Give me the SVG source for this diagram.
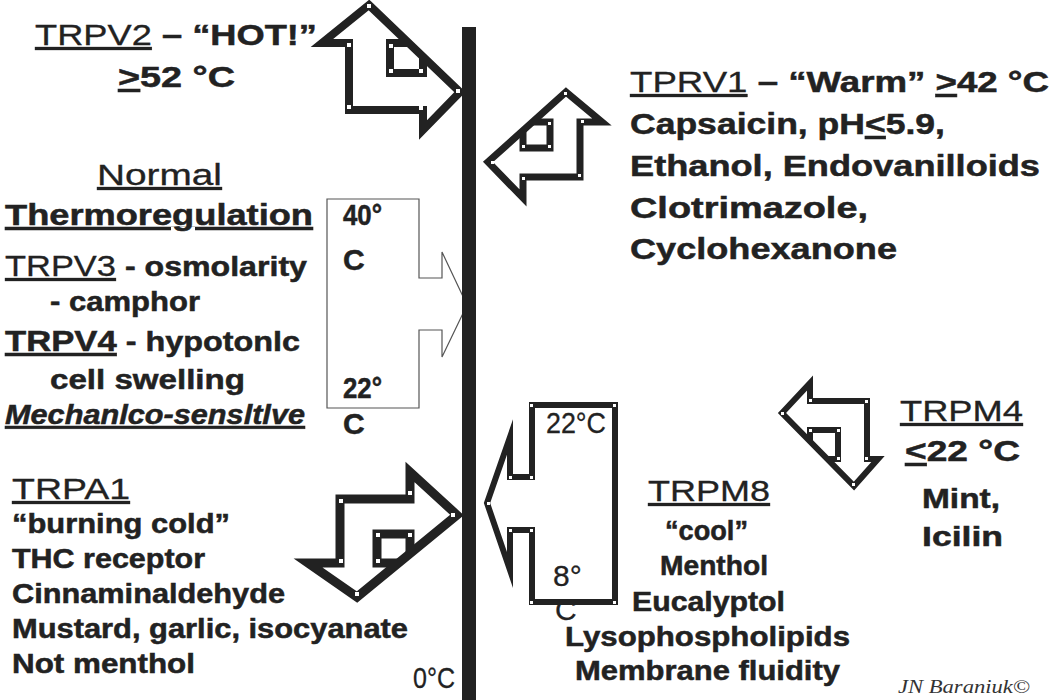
<svg xmlns="http://www.w3.org/2000/svg" width="1050" height="700" viewBox="0 0 1050 700">
<style>
.t{font-family:"Liberation Sans",Arial,sans-serif;font-size:30px;font-weight:bold;fill:#222;stroke:#222;stroke-width:0.5}
.s26{font-size:27px}
.s28{font-size:28px}
.r{font-weight:normal;stroke-width:0.3}
.u{text-decoration:underline}
.i{font-style:italic}
.arr{fill:#fff;stroke:#222;stroke-linejoin:miter;stroke-miterlimit:10}
.in{fill:none;stroke:#222;stroke-linejoin:miter}
.dot{fill:#fff}
.thin{fill:#fff;stroke:#555;stroke-width:1.2}
.sig{font-family:"Liberation Serif","Times New Roman",serif;font-style:italic;font-size:18px;fill:#333}
</style>
<rect width="1050" height="700" fill="#fff"/>

<g id="connectors">
  <path class="thin" d="M327,199 H419 V278 H442 V252 L467,305 L442,357 V330 H419 V408 H327 Z"/>
  <g id="arrow-trpv2">
    <path class="arr" stroke-width="8" d="M369,5 L460,92 L423,130 V110 H349 V43 H322 Z"/>
    <path class="in" stroke-width="8" d="M409,43 H390 V73 H423 V57"/>
    <g class="dot"><rect x="367" y="4" width="4" height="4"/><rect x="347" y="43" width="4" height="4"/><rect x="347" y="105" width="4" height="4"/><rect x="419" y="106" width="4" height="4"/><rect x="389" y="44" width="4" height="4"/><rect x="389" y="69" width="4" height="4"/><rect x="419" y="69" width="4" height="4"/><rect x="456" y="89" width="4" height="4"/></g>
  </g>
  <g id="arrow-trpv1">
    <path class="arr" stroke-width="7" d="M566,92 L602,122 H580 V177 H523 V198 L488,162 Z"/>
    <path class="in" stroke-width="7" d="M533,122 H550 V148 H523 V131"/>
    <g class="dot"><rect x="564" y="92" width="3" height="3"/><rect x="581" y="120" width="3" height="3"/><rect x="578" y="174" width="3" height="3"/><rect x="522" y="177" width="3" height="3"/><rect x="548" y="122" width="3" height="3"/><rect x="548" y="145" width="3" height="3"/><rect x="522" y="145" width="3" height="3"/><rect x="491" y="161" width="3" height="3"/></g>
  </g>
  <g id="arrow-trpa1">
    <path class="arr" stroke-width="9" d="M457,515 L410,472 V499 H340 V563 H308 L357,597 Z"/>
    <path class="in" stroke-width="9" d="M398.5,563 H377 V534 H410 V553.5"/>
    <g class="dot"><rect x="339" y="499" width="4" height="4"/><rect x="339" y="559" width="4" height="4"/><rect x="408" y="491" width="4" height="4"/><rect x="376" y="533" width="4" height="4"/><rect x="408" y="533" width="4" height="4"/><rect x="376" y="559" width="4" height="4"/><rect x="355" y="592" width="4" height="4"/><rect x="451" y="513" width="4" height="4"/></g>
  </g>
  <g id="arrow-trpm4">
    <path class="arr" stroke-width="6" d="M782,413 L810,383 V401 H867 V459 H878 L854,486 Z"/>
    <path class="in" stroke-width="6" d="M810,441 V430 H838 V459 H827"/>
    <g class="dot"><rect x="809" y="399" width="3" height="3"/><rect x="865" y="400" width="3" height="3"/><rect x="865" y="457" width="3" height="3"/><rect x="809" y="429" width="3" height="3"/><rect x="837" y="429" width="3" height="3"/><rect x="837" y="457" width="3" height="3"/><rect x="781" y="412" width="3" height="3"/><rect x="852" y="483" width="3" height="3"/></g>
  </g>
  <g id="arrow-trpm8">
    <path class="arr" stroke-width="6" d="M532,405 H615 V602 H532 V530 H510 V570 L487,503 L510,437 V477 H532 Z"/>
    <g class="dot"><rect x="530" y="404" width="3" height="3"/><rect x="613" y="404" width="3" height="3"/><rect x="613" y="601" width="3" height="3"/><rect x="530" y="601" width="3" height="3"/><rect x="509" y="476" width="3" height="3"/><rect x="530" y="476" width="3" height="3"/><rect x="509" y="529" width="3" height="3"/><rect x="530" y="529" width="3" height="3"/><rect x="487" y="502" width="3" height="3"/></g>
  </g>
</g>

<g id="membrane">
  <rect x="462" y="27" width="14" height="673" fill="#222"/>
</g>

<g id="node-trpv2">
  <text class="t" x="35" y="45" textLength="282" lengthAdjust="spacingAndGlyphs"><tspan class="r u">TRPV2</tspan> – “HOT!”</text>
  <text class="t" x="118" y="87" textLength="117" lengthAdjust="spacingAndGlyphs"><tspan class="u">&gt;</tspan>52 °C</text>
</g>

<g id="node-trpv1">
  <text class="t" x="630" y="92" textLength="419" lengthAdjust="spacingAndGlyphs"><tspan class="r u">TPRV1</tspan> – “Warm” <tspan class="u">&gt;</tspan>42 °C</text>
  <text class="t" x="630" y="134" textLength="315" lengthAdjust="spacingAndGlyphs">Capsaicin, pH<tspan class="u">&lt;</tspan>5.9,</text>
  <text class="t" x="630" y="176" textLength="410" lengthAdjust="spacingAndGlyphs">Ethanol, Endovanilloids</text>
  <text class="t" x="630" y="218" textLength="238" lengthAdjust="spacingAndGlyphs">Clotrimazole,</text>
  <text class="t" x="630" y="259" textLength="267" lengthAdjust="spacingAndGlyphs">Cyclohexanone</text>
</g>

<g id="node-normal">
  <text class="t r u" x="97" y="185" textLength="125" lengthAdjust="spacingAndGlyphs">Normal</text>
  <text class="t u" x="5" y="225" textLength="308" lengthAdjust="spacingAndGlyphs">Thermoregulation</text>
  <text class="t s28" x="5" y="276" textLength="302" lengthAdjust="spacingAndGlyphs"><tspan class="r u" font-size="30">TRPV3</tspan> - osmolarity</text>
  <text class="t s28" x="50" y="311" textLength="150" lengthAdjust="spacingAndGlyphs">- camphor</text>
  <text class="t s28" x="5" y="351" textLength="295" lengthAdjust="spacingAndGlyphs"><tspan class="u" font-size="30">TRPV4</tspan> - hypotonlc</text>
  <text class="t s28" x="50" y="389" textLength="195" lengthAdjust="spacingAndGlyphs">cell swelling</text>
  <text class="t s28 i u" x="5" y="424" textLength="300" lengthAdjust="spacingAndGlyphs">Mechanlco-sensltlve</text>
</g>

<g id="node-range-normal">
  <text class="t" font-size="23" x="343" y="225" textLength="39" lengthAdjust="spacingAndGlyphs">40°</text>
  <text class="t" font-size="23" x="343" y="270">C</text>
  <text class="t" font-size="23" x="343" y="398" textLength="39" lengthAdjust="spacingAndGlyphs">22°</text>
  <text class="t" font-size="23" x="343" y="434">C</text>
</g>

<g id="node-trpa1">
  <text class="t r u" x="12" y="499" textLength="118" lengthAdjust="spacingAndGlyphs">TRPA1</text>
  <text class="t s26" x="12" y="533" textLength="218" lengthAdjust="spacingAndGlyphs">“burning cold”</text>
  <text class="t s26" x="12" y="568" textLength="193" lengthAdjust="spacingAndGlyphs">THC receptor</text>
  <text class="t s26" x="12" y="603" textLength="273" lengthAdjust="spacingAndGlyphs">Cinnaminaldehyde</text>
  <text class="t s26" x="12" y="638" textLength="396" lengthAdjust="spacingAndGlyphs">Mustard, garlic, isocyanate</text>
  <text class="t s26" x="12" y="673" textLength="183" lengthAdjust="spacingAndGlyphs">Not menthol</text>
</g>

<g id="node-zero">
  <text class="t r" font-size="21" x="413" y="688" textLength="42" lengthAdjust="spacingAndGlyphs">0°C</text>
</g>

<g id="node-trpm8">
  <text class="t r" font-size="22" x="546" y="433" textLength="60" lengthAdjust="spacingAndGlyphs">22°C</text>
  <text class="t r" font-size="22" x="553" y="586">8°</text>
  <text class="t r" font-size="22" x="555" y="620">C</text>
  <text class="t r u" x="648" y="501" textLength="122" lengthAdjust="spacingAndGlyphs">TRPM8</text>
  <text class="t s26" x="665" y="540" textLength="83" lengthAdjust="spacingAndGlyphs">“cool”</text>
  <text class="t s26" x="660" y="575" textLength="108" lengthAdjust="spacingAndGlyphs">Menthol</text>
  <text class="t s26" x="632" y="611" textLength="153" lengthAdjust="spacingAndGlyphs">Eucalyptol</text>
  <text class="t s26" x="565" y="646" textLength="285" lengthAdjust="spacingAndGlyphs">Lysophospholipids</text>
  <text class="t s26" x="575" y="680" textLength="265" lengthAdjust="spacingAndGlyphs">Membrane fluidity</text>
</g>

<g id="node-trpm4">
  <text class="t r u" x="900" y="421" textLength="123" lengthAdjust="spacingAndGlyphs">TRPM4</text>
  <text class="t" x="905" y="461" textLength="115" lengthAdjust="spacingAndGlyphs"><tspan class="u">&lt;</tspan>22 °C</text>
  <text class="t s28" x="922" y="508" textLength="78" lengthAdjust="spacingAndGlyphs">Mint,</text>
  <text class="t s28" x="922" y="546" textLength="81" lengthAdjust="spacingAndGlyphs">Icilin</text>
</g>

<g id="node-signature">
  <text class="sig" x="898" y="693" textLength="132" lengthAdjust="spacingAndGlyphs">JN Baraniuk©</text>
</g>
</svg>
